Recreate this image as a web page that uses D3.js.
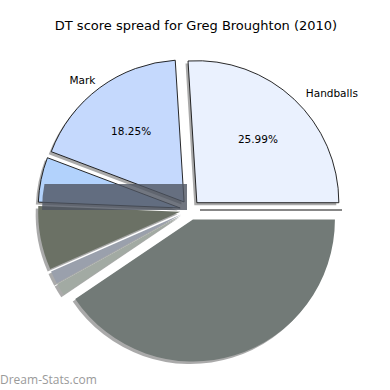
<!DOCTYPE html>
<html>
<head>
<meta charset="utf-8">
<script src="https://d3js.org/d3.v7.min.js"></script>
<style>
  body { margin: 0; background: #fff; }
  svg { font-family: "DejaVu Sans", sans-serif; }
</style>
</head>
<body>
<div id="chart"></div>
<script>
// slice data (percent), matplotlib order: counterclockwise from 3 o'clock
var labels = ["Handballs", "Mark", "", "", "", "", "", ""];
var values = [25.99, 18.25, 5.1, 7.25, 1.45, 1.41, 40.55, 0];
var colors = ["#eaf1fe", "#c5d9fd", "#b2d2fc", "#6b7165", "#9aa0ac", "#a2aaa3", "#727a77", "#ffffff"];
var showPct = [true, true, false, false, false, false, false, false];

var W = 390, H = 390;
var cx = 190, cy = 210, R = 142, explode = 10;

var svg = d3.select("#chart").append("svg")
    .attr("width", W).attr("height", H);

svg.append("text")
    .attr("x", 196).attr("y", 30)
    .attr("text-anchor", "middle")
    .style("font-size", "13px")
    .text("DT score spread for Greg Broughton (2010)");

var data = values.map(function(v, i) {
  return {label: labels[i], value: v, color: colors[i], pct: showPct[i], i: i};
});

// d3 angles: 0 = 12 o'clock clockwise -> start at 3 o'clock, go counterclockwise
var pie = d3.pie().sort(null).value(function(d) { return d.value; })
    .startAngle(Math.PI / 2).endAngle(Math.PI / 2 - 2 * Math.PI);
var arcs = pie(data);

var arc = d3.arc().innerRadius(0).outerRadius(R);

function mid(d) { return (d.startAngle + d.endAngle) / 2; }
function off(d, k) {
  var a = mid(d);
  return [k * Math.sin(a), -k * Math.cos(a)];
}

var g = svg.append("g").attr("transform", "translate(" + cx + "," + cy + ")");

// shadows
g.selectAll("path.shadow")
  .data(arcs.filter(function(d) { return d.data.value > 0; }))
  .enter().append("path")
    .attr("class", "shadow")
    .attr("d", arc)
    .attr("transform", function(d) {
      var o = off(d, explode);
      return "translate(" + (o[0] - 2.5) + "," + (o[1] + 2.5) + ")";
    })
    .style("fill", "#555")
    .style("opacity", 0.5);

function drawSlice(d) {
  var o = off(d, explode);
  var dark = d.data.i >= 3;
  g.append("path")
    .attr("d", arc(d))
    .attr("transform", "translate(" + o[0] + "," + o[1] + ")")
    .style("fill", d.data.color)
    .style("stroke", dark ? "none" : "#111")
    .style("stroke-width", 0.9);
}

// upper wedges first
arcs.slice(0, 3).forEach(drawSlice);

// dark band over the lower part of the small blue wedge
var clip = svg.append("clipPath").attr("id", "pieclip");
clip.append("circle").attr("cx", cx - 6).attr("cy", cy).attr("r", R);
svg.append("rect")
    .attr("x", cx - R - 10).attr("y", cy - 26)
    .attr("width", R + 7).attr("height", 26)
    .attr("clip-path", "url(#pieclip)")
    .style("fill", "#4e5460")
    .style("opacity", 0.8);

arcs.slice(3).forEach(drawSlice);

// zero-width wedge shows as a single edge line
var z = arcs[arcs.length - 1];
var zo = off(z, explode);
g.append("line")
    .attr("x1", zo[0]).attr("y1", zo[1])
    .attr("x2", zo[0] + R * Math.sin(z.startAngle)).attr("y2", zo[1] - R * Math.cos(z.startAngle))
    .style("stroke", "#111").style("stroke-width", 1);

// labels
arcs.forEach(function(d) {
  var a = mid(d);
  if (d.data.label) {
    var p = off(d, R * 1.1 + explode);
    g.append("text")
      .attr("x", p[0] + (Math.sin(a) > 0 ? 2 : 4)).attr("y", p[1] + 8)
      .attr("text-anchor", Math.sin(a) > 0 ? "start" : "end")
      .style("font-size", "10.5px")
      .text(d.data.label);
  }
  if (d.data.pct) {
    var q = off(d, R * 0.6 + explode + 4);
    g.append("text")
      .attr("x", q[0]).attr("y", q[1] + 5)
      .attr("text-anchor", "middle")
      .style("font-size", "10.5px")
      .text(d.data.value.toFixed(2) + "%");
  }
});

svg.append("text")
    .attr("x", 0).attr("y", 384)
    .style("font-family", "'Open Sans', sans-serif")
    .style("font-size", "12px")
    .style("fill", "#9a9a9a")
    .text("Dream-Stats.com");
</script>
</body>
</html>
